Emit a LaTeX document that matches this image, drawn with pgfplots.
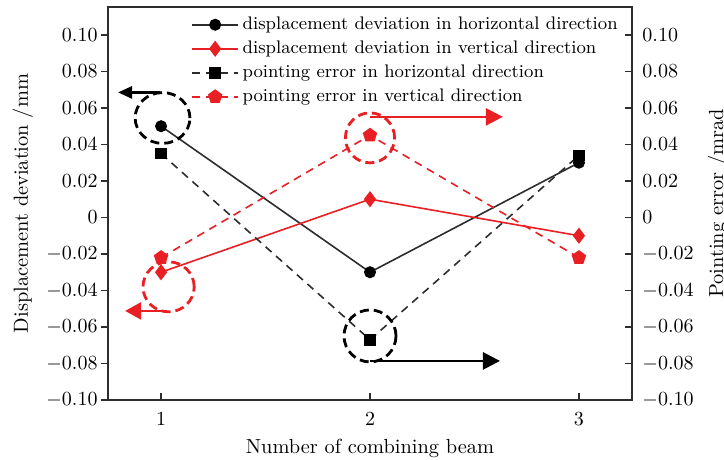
\documentclass[border=0pt]{standalone}
\usepackage{pgfplots}
\pgfplotsset{compat=1.18}
\usetikzlibrary{arrows.meta}
\definecolor{myred}{RGB}{232,32,36}
\definecolor{mygray}{RGB}{45,45,45}
\pgfplotsset{
  common/.style={
    scale only axis, width=262pt, height=196.5pt,
    xmin=0.746, xmax=3.254, ymin=-0.1, ymax=0.1153,
    ytick={-0.1,-0.08,-0.06,-0.04,-0.02,0,0.02,0.04,0.06,0.08,0.1},
    yticklabels={$-0.10$,$-0.08$,$-0.06$,$-0.04$,$-0.02$,$0$,$0.02$,$0.04$,$0.06$,$0.08$,$0.10$},
    major tick length=3.5pt,
    tick style={mygray, line width=0.6pt},
    axis line style={mygray, line width=0.8pt},
    tick label style={font=\fontsize{10}{12}\selectfont},
    label style={font=\fontsize{10.2}{12}\selectfont},
  }
}
\begin{document}
\begin{tikzpicture}
\useasboundingbox (-54pt,-30pt) rectangle (308pt,200pt);
\begin{axis}[common,
  xtick={1,2,3}, xtick pos=bottom, xtick align=inside,
  ytick pos=left, ytick align=outside,
  xticklabel style={yshift=-3pt},
  yticklabel style={xshift=1.8pt},
  xlabel={Number of combining beam},
  xlabel style={at={(axis description cs:0.5,-0.1349)}, anchor=base},
  ylabel={Displacement deviation /mm},
  ylabel style={at={(axis description cs:-0.1527,0.5)}, rotate=0, anchor=base},
  legend style={at={(axis description cs:0.155,0.991)}, anchor=north west, draw=none, fill=none,
     font=\fontsize{9.1}{11}\selectfont, row sep=0.2pt, inner sep=1pt},
  legend cell align=left,
  legend image code/.code={\draw[mark repeat=2,mark phase=2] plot coordinates {(0cm,0cm) (0.4cm,0cm) (0.8cm,0cm)};},
]
\addplot[mygray, line width=0.8pt, mark=*, mark size=2.6pt, mark options={solid, fill=black, draw=black}]
  coordinates {(1,0.050) (2,-0.030) (3,0.030)};
\addlegendentry{displacement deviation in horizontal direction}
\addplot[myred, line width=0.8pt, mark=diamond*, mark size=3.4pt, mark options={solid, fill=myred}]
  coordinates {(1,-0.030) (2,0.010) (3,-0.010)};
\addlegendentry{displacement deviation in vertical direction}
\addplot[mygray, line width=0.8pt, dash pattern=on 4pt off 3pt, mark=square*, mark size=2.5pt, mark options={solid, fill=black, draw=black}]
  coordinates {(1,0.035) (2,-0.067) (3,0.034)};
\addlegendentry{pointing error in horizontal direction}
\addplot[myred, line width=0.8pt, dash pattern=on 4pt off 3pt, mark=pentagon*, mark size=3.3pt, mark options={solid, fill=myred}]
  coordinates {(1,-0.022) (2,0.045) (3,-0.022)};
\addlegendentry{pointing error in vertical direction}
% annotations
\draw[black, line width=1.4pt, dash pattern=on 4.5pt off 2.5pt] (axis cs:1.007,0.0545) ellipse [x radius=13.7pt, y radius=12.7pt];
\draw[myred, line width=1.4pt, dash pattern=on 4.5pt off 2.5pt] (axis cs:1.036,-0.038) ellipse [x radius=12.8pt, y radius=12.5pt];
\draw[myred, line width=1.4pt, dash pattern=on 4.5pt off 2.5pt] (axis cs:2.0,0.0436) ellipse [x radius=12.3pt, y radius=12.5pt];
\draw[black, line width=1.4pt, dash pattern=on 4.5pt off 2.5pt] (axis cs:2.0,-0.0649) ellipse [x radius=13pt, y radius=13pt];
\draw[black, line width=1.3pt, -{Triangle[length=7pt,width=6pt]}] (axis cs:0.995,0.0685) -- (axis cs:0.794,0.0685);
\draw[myred, line width=1.3pt, -{Triangle[length=8pt,width=8.5pt]}] (axis cs:1.027,-0.0512) -- (axis cs:0.828,-0.0512);
\draw[myred, line width=1.3pt, -{Triangle[length=8.5pt,width=8.5pt]}] (axis cs:2.0,0.0551) -- (axis cs:2.636,0.0551);
\draw[black, line width=1.3pt, -{Triangle[length=8.5pt,width=8.5pt]}] (axis cs:2.0,-0.0786) -- (axis cs:2.622,-0.0786);
\end{axis}
\begin{axis}[common,
  axis x line=none, axis y line*=right, ytick align=inside,
  yticklabel style={xshift=1.7pt},
  ylabel={Pointing error /mrad},
  ylabel style={at={(axis description cs:1.1737,0.5)}, rotate=0, anchor=base},
]
\addplot[draw=none] coordinates {(1,0)};
\end{axis}
\end{tikzpicture}
\end{document}
